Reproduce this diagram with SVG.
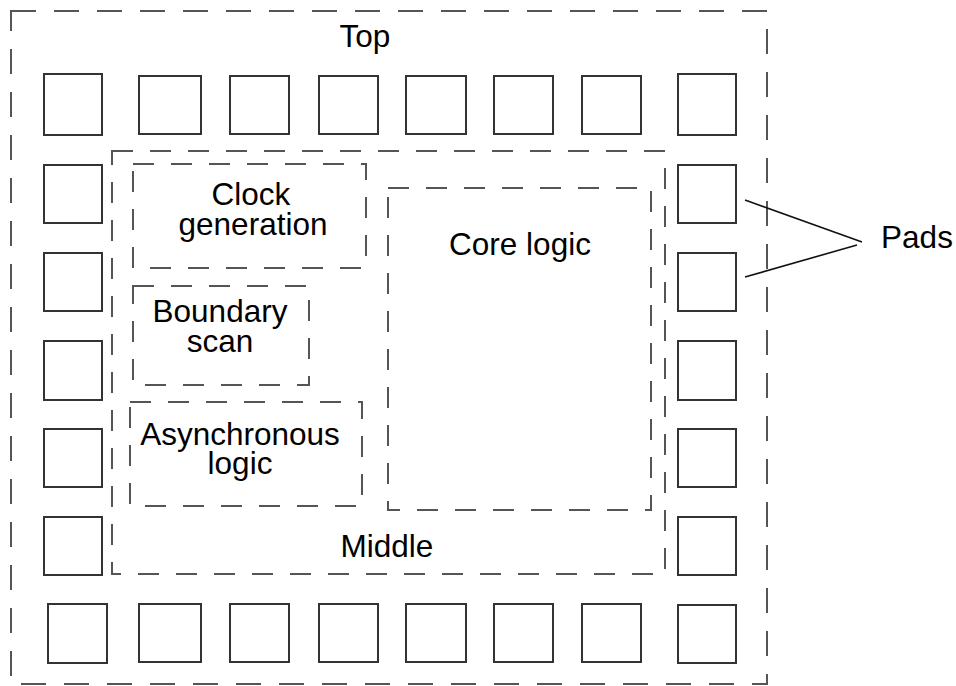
<svg xmlns="http://www.w3.org/2000/svg" width="956" height="686" viewBox="0 0 956 686">
<style>
.pad{fill:none;stroke:#333;stroke-width:2}
.outer{fill:none;stroke:#555;stroke-width:2;stroke-dasharray:25 18}
.blk{fill:none;stroke:#555;stroke-width:2;stroke-dasharray:21 17}
.lbl{font-family:"Liberation Sans",Arial,sans-serif;font-size:31.5px;fill:#000;text-anchor:middle}
.conn{stroke:#111;stroke-width:1.6;fill:none}
</style>
<rect width="956" height="686" fill="#fff"/>
<g id="top">
<rect class="outer" x="11" y="11" width="756" height="673"/>
<text class="lbl" x="365" y="47">Top</text>
</g>
<g id="middle">
<rect class="blk" x="112" y="151" width="553" height="423"/>
<text class="lbl" x="387" y="557">Middle</text>
</g>
<g id="clock">
<rect class="blk" x="133" y="164" width="233" height="104"/>
<text class="lbl" y="205"><tspan x="251">Clock</tspan><tspan x="253" dy="29.5">generation</tspan></text>
</g>
<g id="boundary">
<rect class="blk" x="133" y="286" width="176" height="99"/>
<text class="lbl" y="322"><tspan x="220">Boundary</tspan><tspan x="220" dy="29.5">scan</tspan></text>
</g>
<g id="async">
<rect class="blk" x="130" y="402" width="232" height="104"/>
<text class="lbl" y="445"><tspan x="240">Asynchronous</tspan><tspan x="240" dy="29">logic</tspan></text>
</g>
<g id="core">
<rect class="blk" x="388" y="188" width="263" height="322"/>
<text class="lbl" x="520" y="255">Core logic</text>
</g>
<g id="pads">
<rect class="pad" x="44" y="74" width="58" height="61"/>
<rect class="pad" x="139" y="76" width="62" height="58"/>
<rect class="pad" x="230" y="76" width="59" height="58"/>
<rect class="pad" x="319" y="76" width="59" height="58"/>
<rect class="pad" x="406" y="76" width="60" height="58"/>
<rect class="pad" x="494" y="76" width="59" height="58"/>
<rect class="pad" x="582" y="76" width="59" height="58"/>
<rect class="pad" x="678" y="74" width="58" height="61"/>
<rect class="pad" x="44" y="165" width="58" height="58"/>
<rect class="pad" x="44" y="253" width="58" height="58"/>
<rect class="pad" x="44" y="341" width="58" height="59"/>
<rect class="pad" x="44" y="429" width="58" height="58"/>
<rect class="pad" x="44" y="517" width="58" height="58"/>
<rect class="pad" x="678" y="165" width="58" height="58"/>
<rect class="pad" x="678" y="253" width="58" height="58"/>
<rect class="pad" x="678" y="341" width="58" height="59"/>
<rect class="pad" x="678" y="429" width="58" height="58"/>
<rect class="pad" x="678" y="517" width="58" height="58"/>
<rect class="pad" x="48" y="604" width="59" height="59"/>
<rect class="pad" x="139" y="604" width="62" height="58"/>
<rect class="pad" x="230" y="604" width="59" height="58"/>
<rect class="pad" x="319" y="604" width="59" height="58"/>
<rect class="pad" x="406" y="604" width="60" height="58"/>
<rect class="pad" x="494" y="604" width="59" height="58"/>
<rect class="pad" x="582" y="604" width="59" height="58"/>
<rect class="pad" x="678" y="605" width="58" height="58"/>
</g>
<g id="pads-label">
<text class="lbl" x="917" y="248">Pads</text>
</g>
<g id="connectors">
<line class="conn" x1="745" y1="200" x2="862" y2="242"/>
<line class="conn" x1="745" y1="277" x2="857" y2="245"/>
</g>
</svg>
